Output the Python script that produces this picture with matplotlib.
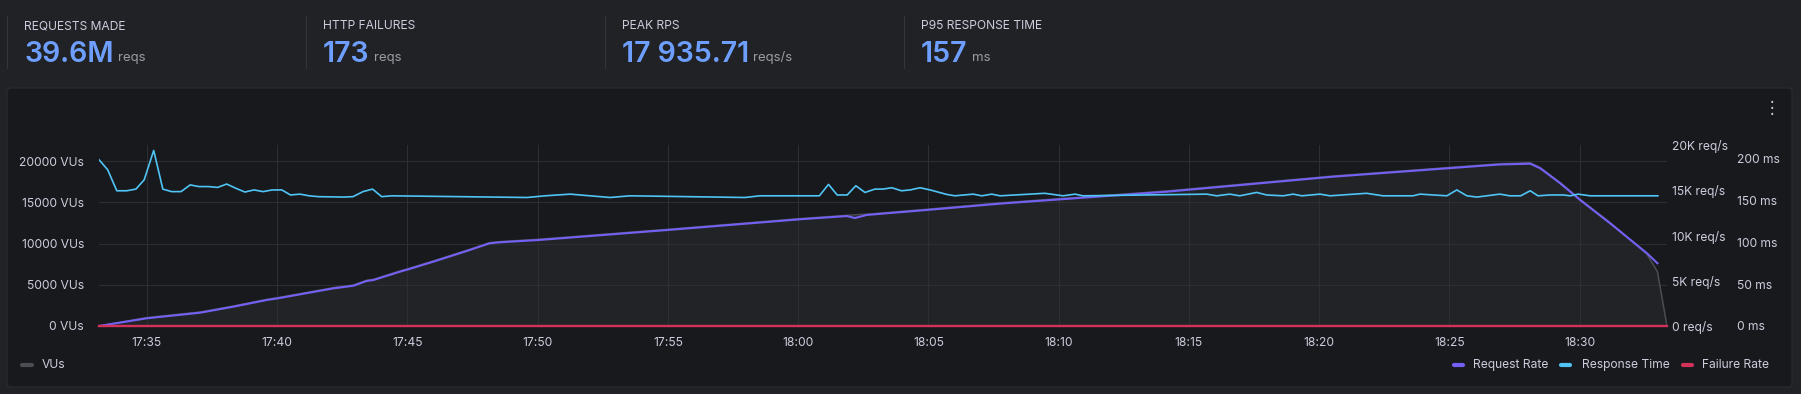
import matplotlib
matplotlib.use('Agg')
import matplotlib.pyplot as plt
import matplotlib.dates as mdates
import matplotlib.ticker as mticker
import pandas as pd
from matplotlib.patches import FancyBboxPatch
from matplotlib.lines import Line2D
from matplotlib.transforms import IdentityTransform

plt.rcParams['font.family'] = ['Inter', 'DejaVu Sans']

# summary stats
stat_titles = ['REQUESTS MADE', 'HTTP FAILURES', 'PEAK RPS', 'P95 RESPONSE TIME']
stat_values = ['39.6M', '173', '17 935.71', '157']
stat_units = ['reqs', 'reqs', 'reqs/s', 'ms']

test_start = '2024-05-14 17:33:10'
test_length_s = 3611

# VUs (left axis), seconds since start
vus_s = [0, 110, 233, 309, 386, 412, 463, 540, 586, 616, 632, 693, 712, 770, 847, 893,
         900, 923, 1012, 1307, 1614, 1722, 1741, 1768, 1906, 2075, 2459, 2842, 3226,
         3296, 3319, 3365, 3411, 3480, 3565, 3589, 3611]
vus = [0, 1020, 1700, 2420, 3230, 3440, 3920, 4650, 4970, 5540, 5660, 6670, 6950, 7890,
       9180, 9990, 10110, 10230, 10510, 11710, 13020, 13410, 13480, 13550, 14150, 14920,
       16370, 18180, 19670, 19780, 19210, 17390, 15360, 12540, 8700, 6580, 0]

# request rate (req/s)
rps_s = [0, 110, 233, 309, 386, 412, 463, 540, 586, 616, 632, 693, 712, 770, 847, 893,
         900, 923, 1012, 1307, 1614, 1722, 1741, 1768, 1906, 2075, 2459, 2842, 3226,
         3296, 3319, 3365, 3411, 3480, 3565, 3589]
rps = [0, 850, 1470, 2130, 2870, 3060, 3500, 4160, 4450, 4970, 5080, 6000, 6260, 7110,
       8290, 9030, 9140, 9250, 9500, 10600, 11790, 12150, 11930, 12270, 12820, 13520,
       14840, 16500, 17850, 17936, 17430, 15770, 13920, 11350, 8030, 6930]

# response time (ms)
rt_s = [0, 20, 41, 64, 85, 104, 126, 147, 167, 189, 210, 230, 252, 273, 294, 315, 336,
        357, 378, 399, 421, 441, 463, 484, 505, 563, 585, 608, 630, 651, 674, 986, 1027,
        1085, 1131, 1177, 1223, 1488, 1522, 1659, 1680, 1700, 1723, 1743, 1764, 1787,
        1805, 1826, 1848, 1868, 1891, 1914, 1952, 1971, 2013, 2033, 2056, 2075, 2178,
        2220, 2248, 2266, 2551, 2574, 2604, 2627, 2666, 2689, 2727, 2750, 2770, 2812,
        2835, 2919, 2957, 3026, 3042, 3104, 3127, 3150, 3173, 3196, 3226, 3249, 3274,
        3296, 3314, 3342, 3372, 3388, 3406, 3434, 3590]
rt_ms = [198, 186, 161, 161, 163, 174, 209, 163, 160, 160, 168, 166, 166, 165, 169, 164,
         159.5, 162, 160, 162, 162, 156, 157, 155, 154, 153.5, 154, 160, 163, 154, 155,
         153, 155, 157, 155, 153, 155, 153, 155, 155, 168.6, 156, 156, 167, 159, 163, 163,
         164.6, 161, 162, 164.6, 162, 156.7, 155, 157, 155, 157, 155, 158, 155, 157, 155,
         157, 155, 157, 155, 159, 156, 155, 157, 155, 157, 155, 158, 155, 155, 157, 155,
         162, 155, 153.5, 155, 157, 155, 155, 161, 155, 156, 156, 155, 157, 155, 155]

# failure rate (req/s)
fail_s = [0, 3611]
fail_rate = [0, 0]

legend_labels = ['Request Rate', 'Response Time', 'Failure Rate']

BG = '#202226'
PANEL = '#18191d'
TXT = '#ccccdc'
C_VU, C_VU_FILL = '#4c4d52', '#222327'
C_RPS, C_RT, C_FAIL = '#7361f5', '#4fc4f5', '#d2325a'

W, H = 1801, 394
start = pd.Timestamp(test_start)


def to_time(secs):
    return (start + pd.to_timedelta(secs, unit='s')).to_pydatetime()


fig = plt.figure(figsize=(W / 100, H / 100), dpi=100, facecolor=BG)

panel = FancyBboxPatch((7, 7), 1785, 299, boxstyle='round,pad=0,rounding_size=4',
                       transform=IdentityTransform(), fc=PANEL, ec='#2b2c31', lw=0.8,
                       zorder=-10)
fig.add_artist(panel)

# header stats
renderer = fig.canvas.get_renderer()
for i, (t, v, u) in enumerate(zip(stat_titles, stat_values, stat_units)):
    x0 = 24 + i * 299
    fig.add_artist(Line2D([(x0 - 17) / W] * 2, [1 - 16 / H, 1 - 68 / H], color='#34353a', lw=0.8))
    fig.text(x0 / W, 1 - 29 / H, t, color=TXT, fontsize=8.7, va='baseline')
    vt = fig.text(x0 / W, 1 - 62 / H, v, color='#6e9fff', fontsize=20.5,
                  fontweight='semibold', va='baseline')
    bb = vt.get_window_extent(renderer)
    fig.text((bb.x1 + 4) / W, 1 - 61 / H, u, color='#9c9da3', fontsize=9.5, va='baseline')

# menu dots
fig.text(1772 / W, 1 - 108 / H, '\u22ee', color=TXT, fontsize=12, ha='center',
         va='center', family='DejaVu Sans')

ax = fig.add_axes([99 / W, (394 - 326) / H, 1568 / W, 181 / H])
ax.set_facecolor('none')
ax2 = ax.twinx()
ax3 = ax.twinx()

ax.fill_between(to_time(vus_s), vus, 0, color=C_VU_FILL, lw=0, zorder=1)
ax.plot(to_time(vus_s), vus, color=C_VU, lw=1.1, zorder=2)
ax2.plot(to_time(rps_s), rps, color=C_RPS, lw=1.5, solid_joinstyle='round')
ax3.plot(to_time(rt_s), rt_ms, color=C_RT, lw=1.2, solid_joinstyle='round')
ax2.plot(to_time(fail_s), fail_rate, color=C_FAIL, lw=1.7, zorder=5, clip_on=False)

ax.set_xlim(to_time(0), to_time(test_length_s))
ax.set_ylim(0, 21940)
ax2.set_ylim(0, 20000)
ax3.set_ylim(0, 215.5)

ax.set_yticks([0, 5000, 10000, 15000, 20000])
ax2.set_yticks([0, 5000, 10000, 15000, 20000])
ax3.set_yticks([0, 50, 100, 150, 200])
ax.yaxis.set_major_formatter(mticker.FuncFormatter(lambda v, p: f'{int(v)} VUs'))
ax2.yaxis.set_major_formatter(mticker.FuncFormatter(
    lambda v, p: f'{int(v / 1000)}K req/s' if v else '0 req/s'))
ax3.yaxis.set_major_formatter(mticker.FuncFormatter(lambda v, p: f'{int(v)} ms'))

ax.xaxis.set_major_locator(mdates.MinuteLocator(byminute=range(0, 60, 5)))
ax.xaxis.set_major_formatter(mdates.DateFormatter('%H:%M'))

ax3.spines['right'].set_position(('outward', 47))
for a in (ax, ax2, ax3):
    for s in a.spines.values():
        s.set_visible(False)
    a.tick_params(length=0, labelsize=8.7, labelcolor=TXT)
ax.tick_params(axis='y', pad=10.8)
ax.tick_params(axis='x', pad=8)
ax2.tick_params(axis='y', pad=3.6)
ax3.tick_params(axis='y', pad=3.6)
for lbl in ax2.get_yticklabels() + ax3.get_yticklabels():
    lbl.set_ha('left')

ax.grid(True, color='#2d2e33', lw=0.75)

# legend
def swatch(x0, x1, y, color):
    fig.add_artist(Line2D([x0 / W, x1 / W], [1 - y / H] * 2, color=color, lw=3,
                          solid_capstyle='round'))

swatch(22, 32, 365, C_VU)
fig.text(42 / W, 1 - 365 / H, 'VUs', color=TXT, fontsize=8.7, va='center')
for (sx, tx), lbl, col in zip([(1454, 1473), (1561, 1582), (1683, 1702)], legend_labels,
                              [C_RPS, C_RT, C_FAIL]):
    swatch(sx, sx + 9, 365, col)
    fig.text(tx / W, 1 - 365 / H, lbl, color=TXT, fontsize=8.7, va='center')

fig.savefig('out.png', dpi=100, facecolor=BG)
